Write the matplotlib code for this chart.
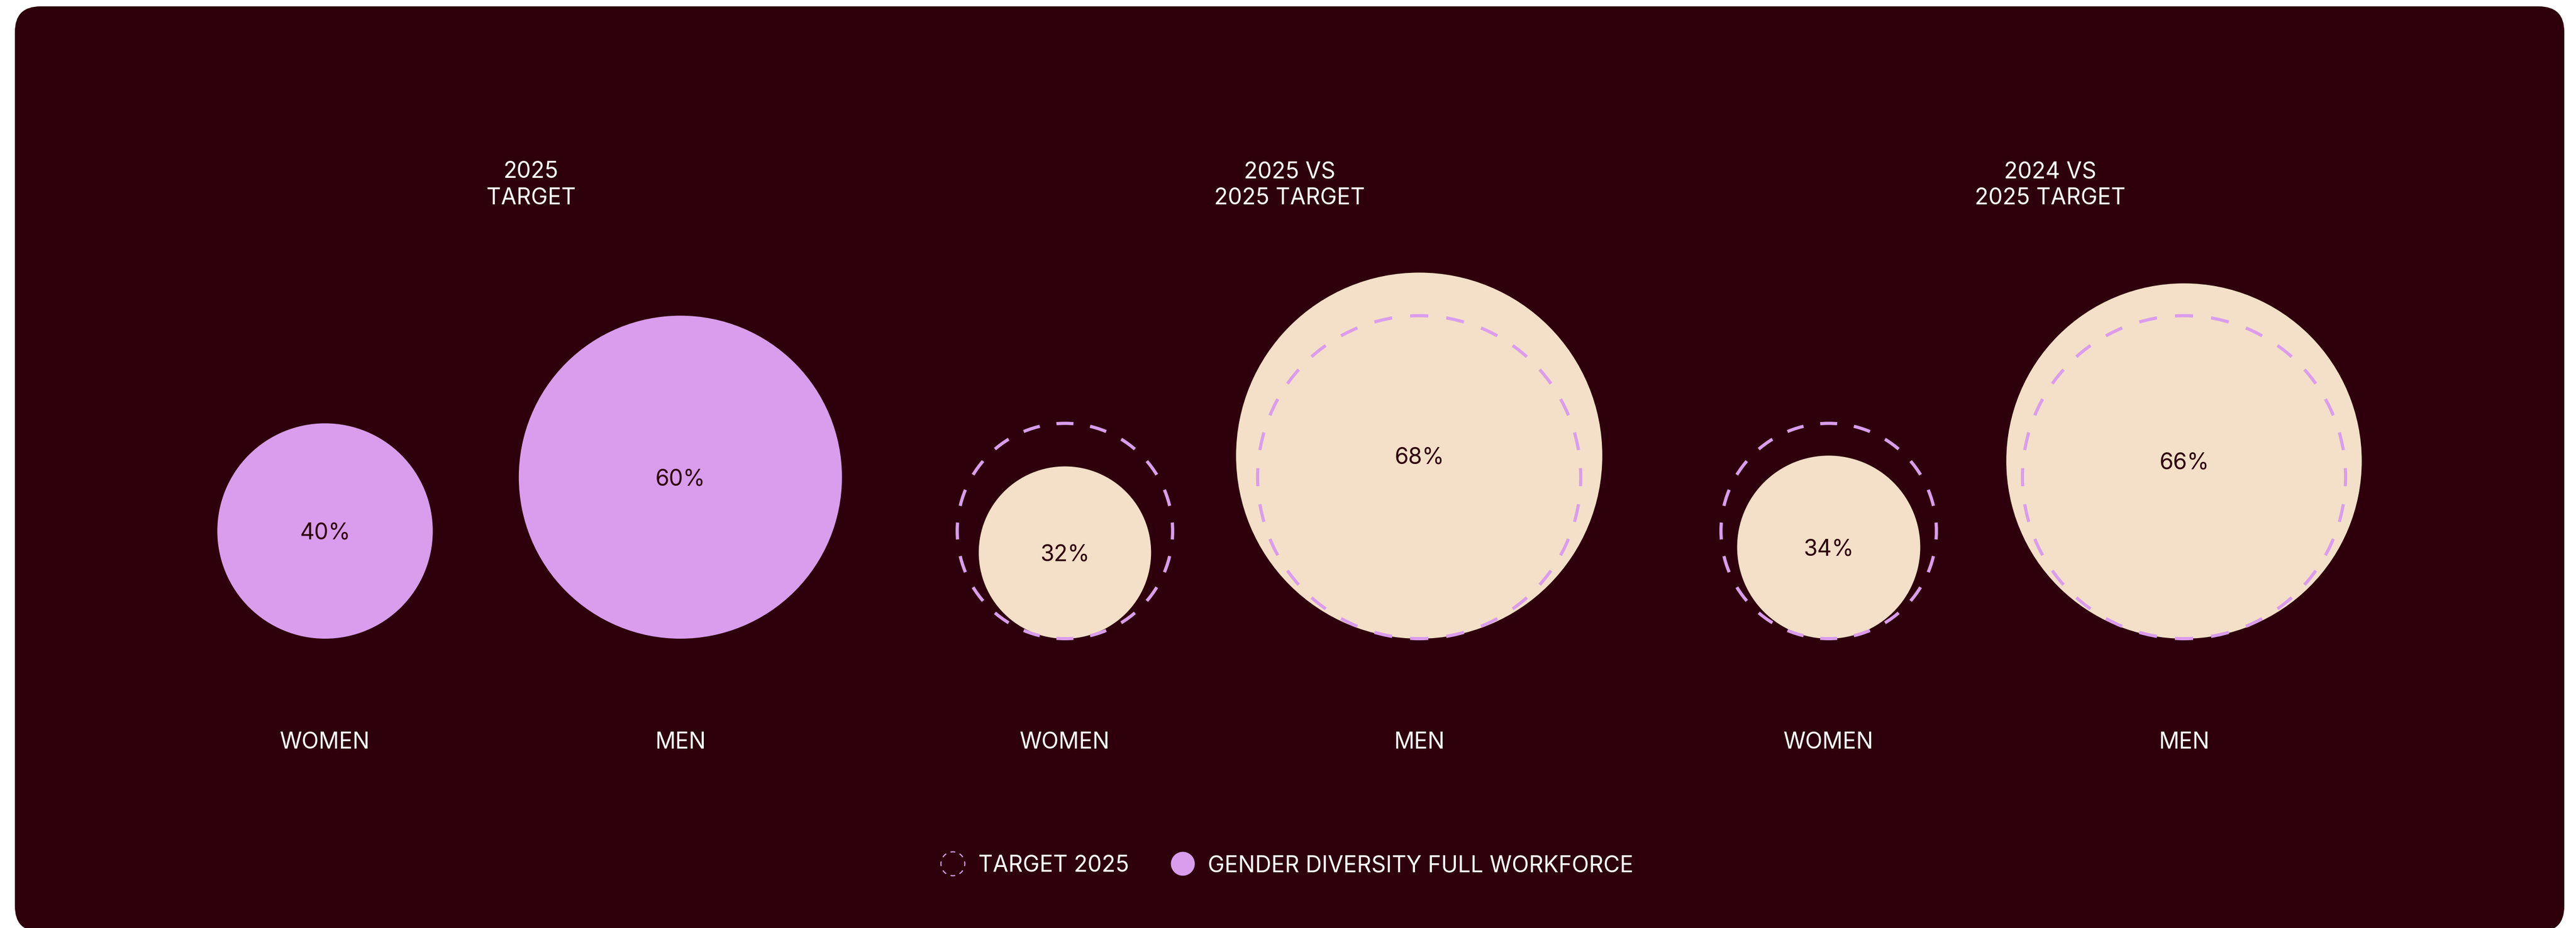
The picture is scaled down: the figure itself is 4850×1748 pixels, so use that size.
import matplotlib
matplotlib.use("Agg")
import matplotlib.pyplot as plt
from matplotlib.patches import Circle, FancyBboxPatch
import numpy as np

plt.rcParams['font.family'] = ['Inter', 'DejaVu Sans']
plt.rcParams['lines.scale_dashes'] = False

# ---- data ----
panel_titles = [("2025", "TARGET"), ("2025 VS", "2025 TARGET"), ("2024 VS", "2025 TARGET")]
categories = ["WOMEN", "MEN"]
target_2025 = [40, 60]
actual_2025 = [32, 68]
actual_2024 = [34, 66]
legend_labels = ["TARGET 2025", "GENDER DIVERSITY FULL WORKFORCE"]

# ---- layout / style ----
W, H, DPI = 4850, 1748, 100
BG = "#2E000B"
PURPLE = "#DA9DED"
CREAM = "#F4E0C8"
WHITE = "#FFFFFF"
PX_PER_PCT = 5.07          # circle radius in pixels per percentage point
BASE_Y = 1203              # circles sit on a common baseline
circle_x = [[612, 1281], [2005, 2672], [3443, 4112]]
title_x = [1000, 2428, 3860]
FS = 30.5
CAP = 0.727 * FS * DPI / 72
TO_PT = 72 / DPI

fig = plt.figure(figsize=(W / DPI, H / DPI), dpi=DPI, facecolor="white")
ax = fig.add_axes([0, 0, 1, 1])
ax.set_xlim(0, W)
ax.set_ylim(H, 0)
ax.set_aspect("equal")
ax.axis("off")

# dark rounded panel
ax.add_patch(FancyBboxPatch((28, 12), 4800, 1743,
                            boxstyle="round,pad=0,rounding_size=48",
                            facecolor=BG, edgecolor="none", zorder=0))


def dashed_ring(cx, cy, r, lw_px, period_px, color, zorder):
    circ = 2 * np.pi * r
    n = max(4, int(round(circ / period_px / 4)) * 4)
    per = circ / n
    dash = per / 2
    ls = (dash / 2 * TO_PT, (dash * TO_PT, (per - dash) * TO_PT))
    ax.add_patch(Circle((cx, cy), r, fill=False, edgecolor=color,
                        lw=lw_px * TO_PT, linestyle=ls, zorder=zorder))


def value_circle(cx, value, color):
    r = value * PX_PER_PCT
    cy = BASE_Y - r
    ax.add_patch(Circle((cx, cy), r, facecolor=color, edgecolor="none", zorder=2))
    ax.text(cx, cy + CAP / 2, f"{value}%", ha="center", va="baseline",
            fontsize=FS, color=BG, zorder=4)


panels = [(target_2025, PURPLE, False),
          (actual_2025, CREAM, True),
          (actual_2024, CREAM, True)]

for p, (values, color, show_target) in enumerate(panels):
    l1, l2 = panel_titles[p]
    ax.text(title_x[p], 335, l1, ha="center", va="baseline", fontsize=FS, color=WHITE)
    ax.text(title_x[p], 385, l2, ha="center", va="baseline", fontsize=FS, color=WHITE)
    for i, cat in enumerate(categories):
        cx = circle_x[p][i]
        value_circle(cx, values[i], color)
        if show_target:
            rt = target_2025[i] * PX_PER_PCT
            dashed_ring(cx, BASE_Y - rt, rt, 6, 64, PURPLE, 3)
        ax.text(cx, 1410, cat, ha="center", va="baseline", fontsize=FS, color=WHITE)

# legend
LEG_Y = 1627
dashed_ring(1794, LEG_Y, 22.5, 2.2, 17.7, PURPLE, 3)
ax.text(1842, LEG_Y + CAP / 2, legend_labels[0], ha="left", va="baseline",
        fontsize=FS, color=WHITE)
ax.add_patch(Circle((2227, LEG_Y), 22.5, facecolor=PURPLE, edgecolor="none", zorder=3))
ax.text(2274, LEG_Y + CAP / 2, legend_labels[1], ha="left", va="baseline",
        fontsize=FS, color=WHITE)

fig.savefig("out.png", dpi=DPI, facecolor="white")
